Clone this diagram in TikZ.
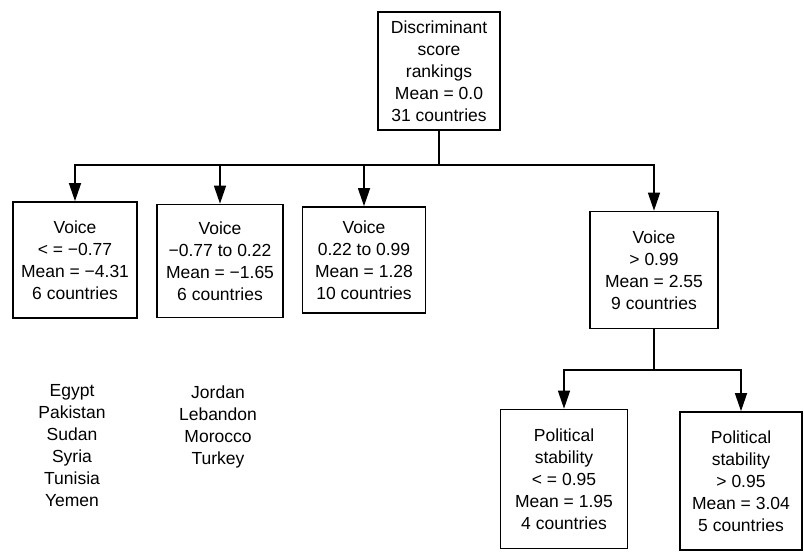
\documentclass[tikz,border=0pt]{standalone}
\usepackage{fontspec}
\setmainfont{Liberation Sans}
\usetikzlibrary{arrows.meta, positioning}

\begin{document}
\begin{tikzpicture}[x=1pt,y=-1pt,font=\fontsize{17.5}{22}\selectfont,
    box/.style={draw,line width=1.7pt,align=center,inner sep=0pt},
    arr/.style={-{Triangle[length=18pt,width=12pt]},line width=1.5pt},
    list/.style={align=center}]
  \useasboundingbox (0,0) rectangle (804,553);
  % Root box
  \node[box,minimum width=122pt,minimum height=118pt] (root) at (439,71)
    {Discriminant\\score\\rankings\\Mean = 0.0\\31 countries};
  % Voice boxes
  \node[box,minimum width=124pt,minimum height=116pt] (v1) at (75,260)
    {Voice\\< = −0.77\\Mean = −4.31\\6 countries};
  \node[box,minimum width=126pt,minimum height=113pt] (v2) at (220,261)
    {Voice\\−0.77 to 0.22\\Mean = −1.65\\6 countries};
  \node[box,minimum width=123pt,minimum height=106pt] (v3) at (364,260)
    {Voice\\0.22 to 0.99\\Mean = 1.28\\10 countries};
  \node[box,minimum width=128pt,minimum height=117pt] (v4) at (654,270)
    {Voice\\> 0.99\\Mean = 2.55\\9 countries};
  % Political stability boxes
  \node[box,minimum width=127pt,minimum height=139pt] (p1) at (564,479)
    {Political\\stability\\< = 0.95\\Mean = 1.95\\4 countries};
  \node[box,minimum width=122pt,minimum height=138pt] (p2) at (741,481)
    {Political\\stability\\> 0.95\\Mean = 3.04\\5 countries};
  % Country lists
  \node[list] (c1) at (72,446) {Egypt\\Pakistan\\Sudan\\Syria\\Tunisia\\Yemen};
  \node[list] (c2) at (218,427) {Jordan\\Lebandon\\Morocco\\Turkey};
  % Arrows
  \coordinate (split) at (439,165);
  \coordinate (split2) at (654,370);
  \draw[line width=1.5pt] (root.south) -- (split);
  \foreach \b in {v1,v2,v3,v4}
    \draw[arr] (split) -| (\b.north);
  \draw[line width=1.5pt] (v4.south) -- (split2);
  \draw[arr] (split2) -| (p1.north);
  \draw[arr] (split2) -| (p2.north);
\end{tikzpicture}
\end{document}
